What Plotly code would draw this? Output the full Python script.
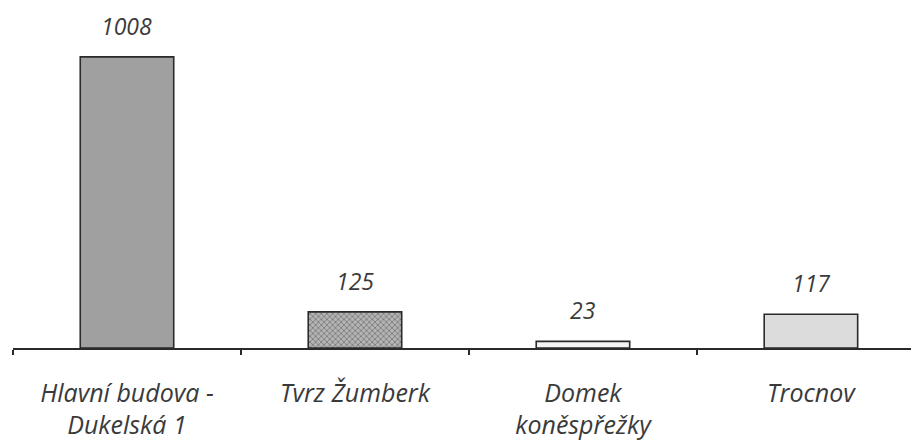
import plotly.graph_objects as go

categories = ["Hlavní budova -<br>Dukelská 1", "Tvrz Žumberk", "Domek<br>koněspřežky", "Trocnov"]
values = [1008, 125, 23, 117]
value_labels = ["1008", "125", "23", "117"]

fill_colors = ["#a0a0a0", "#b4b4b4", "#f4f4f4", "#dcdcdc"]
pattern_shapes = ["", "x", "", ""]

fig = go.Figure()
fig.add_trace(go.Bar(
    x=categories,
    y=values,
    width=0.41,
    marker=dict(
        color=fill_colors,
        line=dict(color="#2a2a2a", width=1.6),
        pattern=dict(shape=pattern_shapes, fgcolor="#4a4a4a", bgcolor="#c8c8c8", size=4, solidity=0.4),
    ),
    hoverinfo="skip",
))

for c, v, t in zip(categories, values, value_labels):
    fig.add_annotation(
        x=c, y=v, text=f"<i>{t}</i>", showarrow=False, yanchor="bottom", yshift=13,
        font=dict(family="Open Sans", size=23, color="#3a3a3a"),
    )

fig.update_layout(
    width=911, height=433,
    margin=dict(l=5, r=0, t=20, b=93, autoexpand=False),
    paper_bgcolor="white", plot_bgcolor="white",
    showlegend=False,
    font=dict(family="Open Sans", size=22, color="#3a3a3a"),
)
fig.update_xaxes(
    type="category",
    tickmode="array",
    tickvals=categories,
    ticktext=[f"<i>{c}</i>" for c in categories],
    tickson="boundaries",
    range=[-0.5, 3.474],
    automargin=False,
    showline=True, linecolor="#2a2a2a", linewidth=1.6,
    ticks="outside", ticklen=5, tickcolor="#2a2a2a", tickwidth=1.6,
    ticklabelstandoff=22,
    showgrid=False, zeroline=False,
    tickfont=dict(family="Open Sans", size=25, color="#3a3a3a"),
)
fig.update_yaxes(
    range=[0, 1108],
    automargin=False,
    showticklabels=False, showgrid=False, zeroline=False, showline=False,
)

fig.write_html("out.html")
